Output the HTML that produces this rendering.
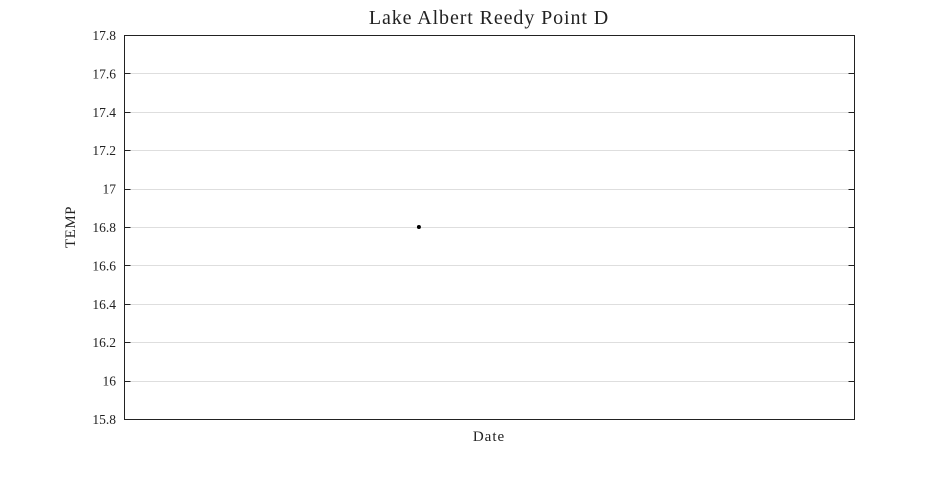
<!DOCTYPE html>
<html><head><meta charset="utf-8"><style>
body{margin:0;background:#fff;width:945px;height:472px;overflow:hidden}
text{font-family:"Liberation Serif",serif;fill:#222}
</style></head><body>
<svg id="chart" width="945" height="472" xmlns="http://www.w3.org/2000/svg">
<text x="489" y="24" text-anchor="middle" font-size="20" letter-spacing="0.9">Lake Albert Reedy Point D</text>
<text x="489" y="441" text-anchor="middle" font-size="15" letter-spacing="1">Date</text>
<text transform="translate(75,227) rotate(-90)" text-anchor="middle" font-size="15" letter-spacing="0.5">TEMP</text>
<g id="grid"></g>
<g id="ticks"></g>
<rect x="124.5" y="35.5" width="730" height="384" fill="none" stroke="#222" stroke-width="1"/>
<g id="points"></g>
</svg>
<script>
const yTicks=[15.8,16,16.2,16.4,16.6,16.8,17,17.2,17.4,17.6,17.8];
const yTickLabels=["15.8","16","16.2","16.4","16.6","16.8","17","17.2","17.4","17.6","17.8"];
const xValues=[0.404];
const tempValues=[16.8];
const L=124.5,R=854.5,T=35.5,B=419.5,yMin=15.8,yMax=17.8;
function y(v){return B-(v-yMin)/(yMax-yMin)*(B-T);}
function x(f){return L+f*(R-L);}
const ns="http://www.w3.org/2000/svg";
const grid=document.getElementById('grid'),ticks=document.getElementById('ticks'),pts=document.getElementById('points');
yTicks.forEach((v,i)=>{
  const yy=Math.round(y(v)-0.5)+0.5;
  if(i>0&&i<yTicks.length-1){
    const g=document.createElementNS(ns,'line');
    
    
    g.setAttribute('x1',L);g.setAttribute('x2',R);g.setAttribute('y1',yy);g.setAttribute('y2',yy);
    g.setAttribute('stroke','#dedede');grid.appendChild(g);
  }
  [[L,L+6],[R-6,R]].forEach(p=>{
    const t=document.createElementNS(ns,'line');
    
    
    t.setAttribute('x1',p[0]);t.setAttribute('x2',p[1]);t.setAttribute('y1',yy);t.setAttribute('y2',yy);
    t.setAttribute('stroke','#222');ticks.appendChild(t);
  });
  const lb=document.createElementNS(ns,'text');
  
  
  lb.setAttribute('x',116);lb.setAttribute('y',y(v)+4.5);lb.setAttribute('text-anchor','end');lb.setAttribute('font-size','13.5');
  lb.textContent=yTickLabels[i];ticks.appendChild(lb);
});
tempValues.forEach((v,i)=>{
  const c=document.createElementNS(ns,'circle');
  
  
  c.setAttribute('cx',x(xValues[i])-0.5);c.setAttribute('cy',y(v)-0.5);c.setAttribute('r',2);c.setAttribute('fill','#000');
  pts.appendChild(c);
});
</script>
</body></html>
